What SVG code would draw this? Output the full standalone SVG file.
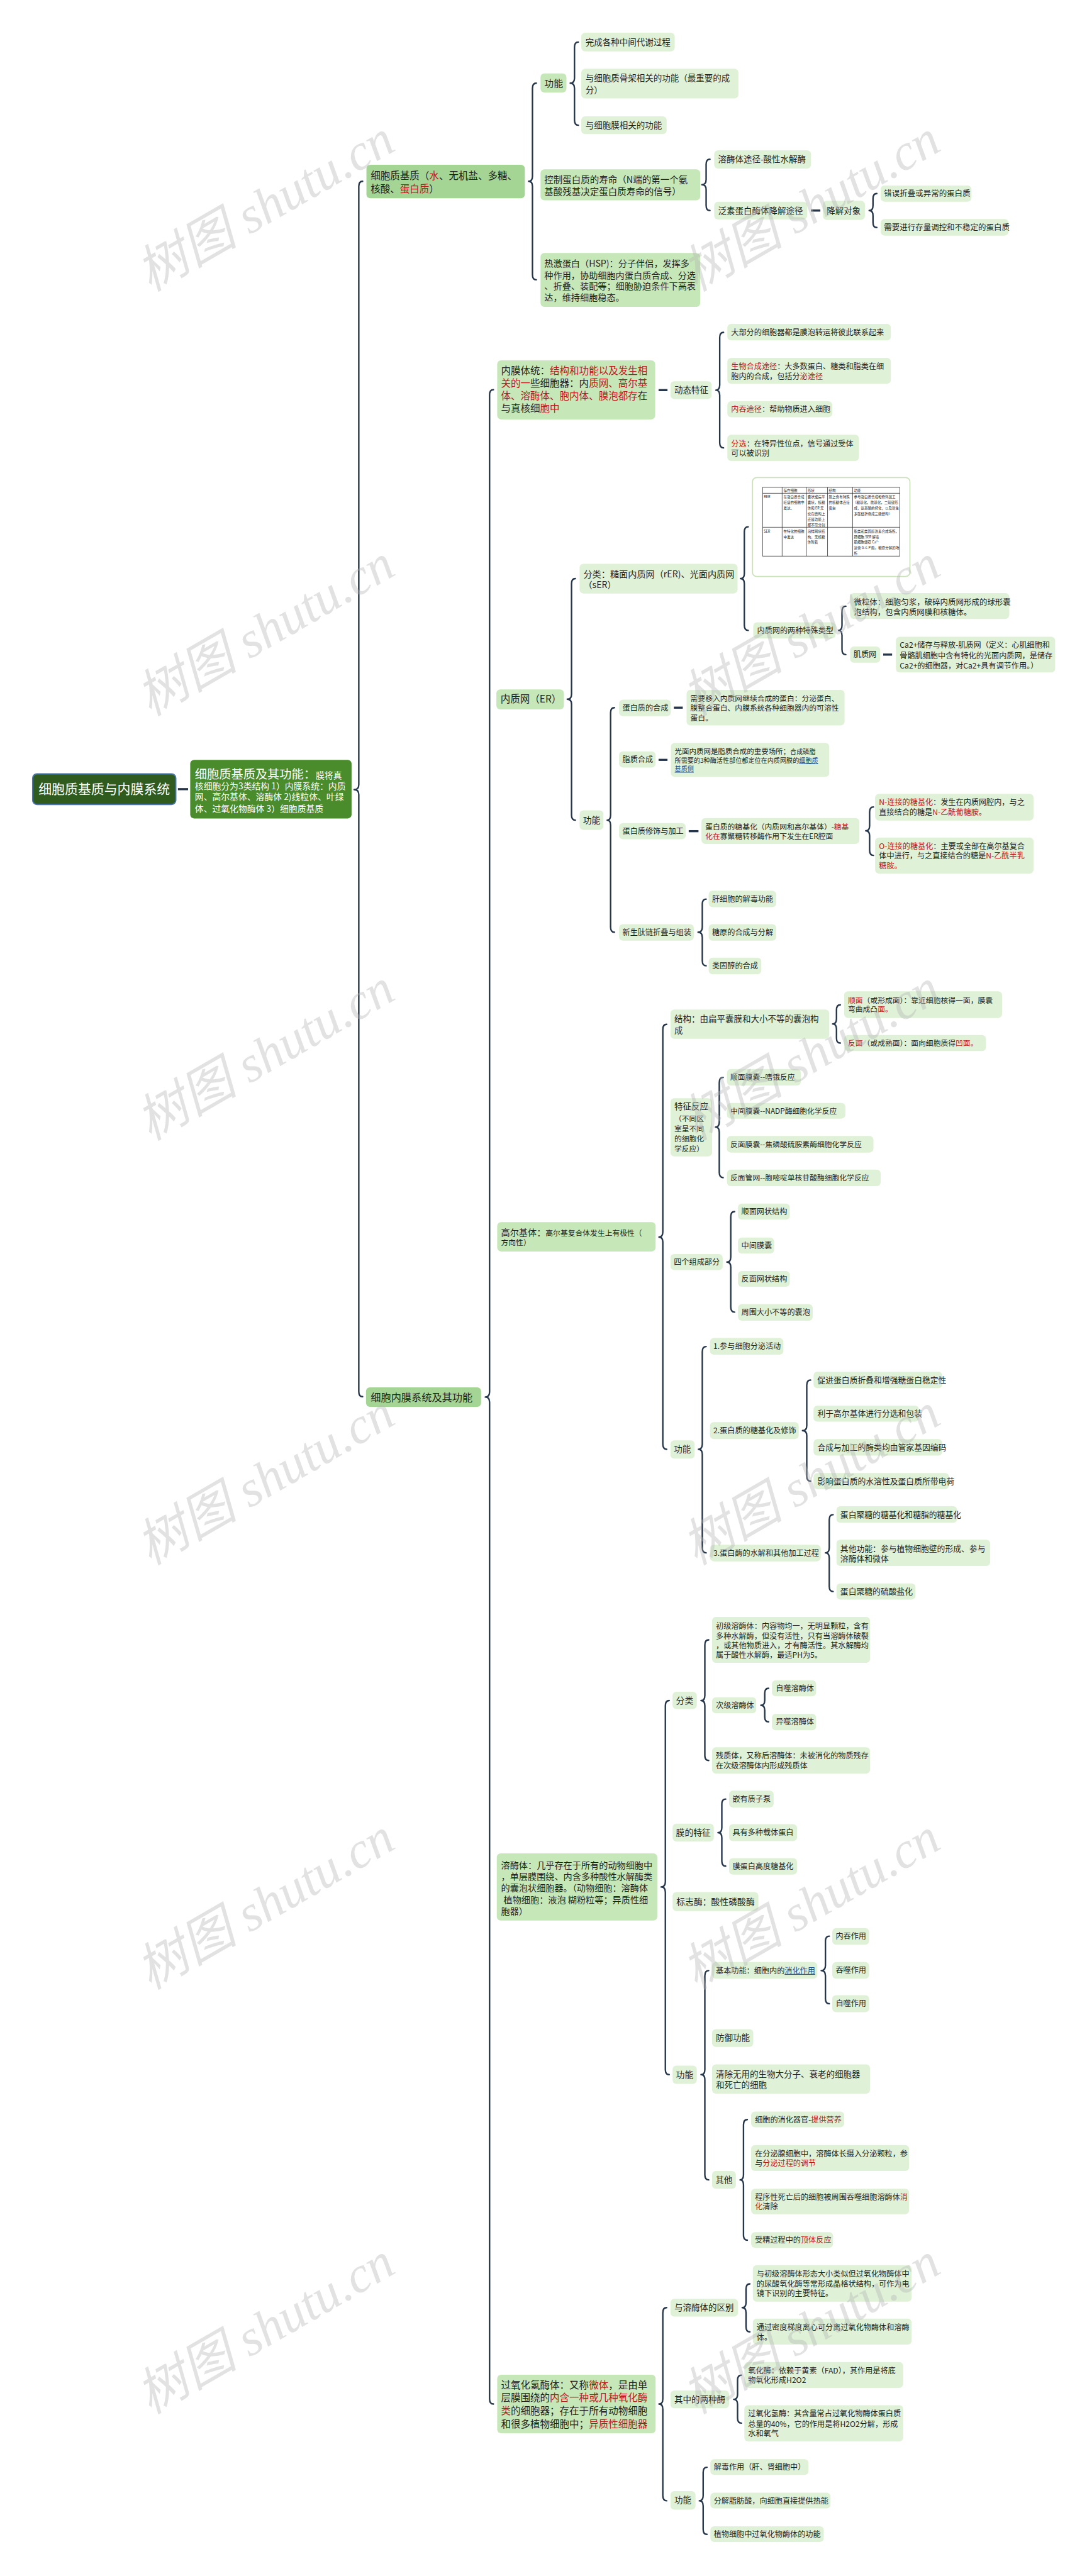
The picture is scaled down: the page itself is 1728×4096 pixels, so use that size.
<svg xmlns="http://www.w3.org/2000/svg" width="1728" height="4096" viewBox="0 0 1728 4096">
<style>
.c{fill:none;stroke:#25364a;stroke-width:3.5;stroke-linecap:round;stroke-linejoin:round}
.s{stroke:#25364a;stroke-width:5}
.L2{fill:#a5d595}
.L3{fill:#c6e7b8}
.L4{fill:#dff1d6}
text{font-family:'Noto Sans CJK SC','Liberation Sans',sans-serif;fill:#1f1f1f}
.r{fill:#c0161b}
.lk{fill:#1d4f91;text-decoration:underline}
.w{fill:#ffffff}
.tb text{font-size:8.2px;fill:#222}
.tl{stroke:#333;stroke-width:1.2;fill:none}
.wm{font-family:'Liberation Serif','Noto Sans CJK SC',serif;font-style:italic;font-size:120px;fill:#b5b5b5;opacity:.38}
</style>
<rect x="0" y="0" width="1728" height="4096" fill="#ffffff"/>
<g transform="scale(0.675)">
<g id="connectors">
<line class="s" x1="419" y1="1859" x2="443" y2="1859"/>
<line class="s" x1="1910" y1="496" x2="1932" y2="496"/>
<line class="s" x1="1551" y1="919" x2="1572" y2="919"/>
<line class="s" x1="2080" y1="1542" x2="2101" y2="1542"/>
<line class="s" x1="1587" y1="1667" x2="1608" y2="1667"/>
<line class="s" x1="1551" y1="1790" x2="1572" y2="1790"/>
<line class="s" x1="1622" y1="1958" x2="1645" y2="1958"/>
<path class="c" d="M 854 427 Q 845 427 845 439 V 1848 Q 845 1860 834 1860 Q 845 1860 845 1872 V 3278 Q 845 3290 854 3290"/>
<path class="c" d="M 1263 196 Q 1254 196 1254 208 V 415 Q 1254 427 1245 427 Q 1254 427 1254 439 V 647 Q 1254 659 1263 659"/>
<path class="c" d="M 1362 99 Q 1353 99 1353 111 V 184 Q 1353 196 1343 196 Q 1353 196 1353 208 V 283 Q 1353 295 1362 295"/>
<path class="c" d="M 1672 375 Q 1663 375 1663 387 V 423 Q 1663 435 1653 435 Q 1663 435 1663 447 V 484 Q 1663 496 1672 496"/>
<path class="c" d="M 2065 456 Q 2056 456 2056 468 V 484 Q 2056 496 2047 496 Q 2056 496 2056 508 V 524 Q 2056 536 2065 536"/>
<path class="c" d="M 1162 918 Q 1153 918 1153 930 V 3279 Q 1153 3291 1143 3291 Q 1153 3291 1153 3303 V 5651 Q 1153 5663 1162 5663"/>
<path class="c" d="M 1704 783 Q 1695 783 1695 795 V 907 Q 1695 919 1686 919 Q 1695 919 1695 931 V 1043 Q 1695 1055 1704 1055"/>
<path class="c" d="M 1355 1363 Q 1346 1363 1346 1375 V 1635 Q 1346 1647 1336 1647 Q 1346 1647 1346 1659 V 1920 Q 1346 1932 1355 1932"/>
<path class="c" d="M 1762 1241 Q 1753 1241 1753 1253 V 1351 Q 1753 1363 1744 1363 Q 1753 1363 1753 1375 V 1473 Q 1753 1485 1762 1485"/>
<path class="c" d="M 1992 1428 Q 1983 1428 1983 1440 V 1473 Q 1983 1485 1975 1485 Q 1983 1485 1983 1497 V 1530 Q 1983 1542 1992 1542"/>
<path class="c" d="M 1447 1667 Q 1438 1667 1438 1679 V 1920 Q 1438 1932 1430 1932 Q 1438 1932 1438 1944 V 2184 Q 1438 2196 1447 2196"/>
<path class="c" d="M 2057 1901 Q 2048 1901 2048 1913 V 1945 Q 2048 1957 2039 1957 Q 2048 1957 2048 1969 V 2003 Q 2048 2015 2057 2015"/>
<path class="c" d="M 1663 2118 Q 1654 2118 1654 2130 V 2184 Q 1654 2196 1644 2196 Q 1654 2196 1654 2208 V 2263 Q 1654 2275 1663 2275"/>
<path class="c" d="M 1570 2413 Q 1561 2413 1561 2425 V 2902 Q 1561 2914 1552 2914 Q 1561 2914 1561 2926 V 3402 Q 1561 3414 1570 3414"/>
<path class="c" d="M 1979 2367 Q 1970 2367 1970 2379 V 2400 Q 1970 2412 1961 2412 Q 1970 2412 1970 2424 V 2445 Q 1970 2457 1979 2457"/>
<path class="c" d="M 1703 2538 Q 1694 2538 1694 2550 V 2643 Q 1694 2655 1685 2655 Q 1694 2655 1694 2667 V 2762 Q 1694 2774 1703 2774"/>
<path class="c" d="M 1730 2854 Q 1721 2854 1721 2866 V 2961 Q 1721 2973 1712 2973 Q 1721 2973 1721 2985 V 3079 Q 1721 3091 1730 3091"/>
<path class="c" d="M 1663 3172 Q 1654 3172 1654 3184 V 3402 Q 1654 3414 1645 3414 Q 1654 3414 1654 3426 V 3646 Q 1654 3658 1663 3658"/>
<path class="c" d="M 1909 3251 Q 1900 3251 1900 3263 V 3358 Q 1900 3370 1890 3370 Q 1900 3370 1900 3382 V 3477 Q 1900 3489 1909 3489"/>
<path class="c" d="M 1962 3568 Q 1953 3568 1953 3580 V 3646 Q 1953 3658 1944 3658 Q 1953 3658 1953 3670 V 3737 Q 1953 3749 1962 3749"/>
<path class="c" d="M 1576 4006 Q 1567 4006 1567 4018 V 4433 Q 1567 4445 1557 4445 Q 1567 4445 1567 4457 V 4875 Q 1567 4887 1576 4887"/>
<path class="c" d="M 1669 3863 Q 1660 3863 1660 3875 V 3994 Q 1660 4006 1651 4006 Q 1660 4006 1660 4018 V 4135 Q 1660 4147 1669 4147"/>
<path class="c" d="M 1810 3977 Q 1801 3977 1801 3989 V 4005 Q 1801 4017 1792 4017 Q 1801 4017 1801 4029 V 4044 Q 1801 4056 1810 4056"/>
<path class="c" d="M 1709 4238 Q 1700 4238 1700 4250 V 4305 Q 1700 4317 1691 4317 Q 1700 4317 1700 4329 V 4384 Q 1700 4396 1709 4396"/>
<path class="c" d="M 1669 4642 Q 1660 4642 1660 4654 V 4875 Q 1660 4887 1651 4887 Q 1660 4887 1660 4899 V 5123 Q 1660 5135 1669 5135"/>
<path class="c" d="M 1953 4561 Q 1944 4561 1944 4573 V 4630 Q 1944 4642 1934 4642 Q 1944 4642 1944 4654 V 4708 Q 1944 4720 1953 4720"/>
<path class="c" d="M 1760 4993 Q 1751 4993 1751 5005 V 5123 Q 1751 5135 1743 5135 Q 1751 5135 1751 5147 V 5265 Q 1751 5277 1760 5277"/>
<path class="c" d="M 1570 5436 Q 1561 5436 1561 5448 V 5651 Q 1561 5663 1552 5663 Q 1561 5663 1561 5675 V 5879 Q 1561 5891 1570 5891"/>
<path class="c" d="M 1766 5380 Q 1757 5380 1757 5392 V 5424 Q 1757 5436 1748 5436 Q 1757 5436 1757 5448 V 5481 Q 1757 5493 1766 5493"/>
<path class="c" d="M 1746 5595 Q 1737 5595 1737 5607 V 5640 Q 1737 5652 1728 5652 Q 1737 5652 1737 5664 V 5696 Q 1737 5708 1746 5708"/>
<path class="c" d="M 1665 5812 Q 1656 5812 1656 5824 V 5879 Q 1656 5891 1647 5891 Q 1656 5891 1656 5903 V 5958 Q 1656 5970 1665 5970"/>
</g>

<g id="n-root"><rect x="77" y="1823" width="337" height="72" rx="10" fill="#2f5b1f" stroke="#4876a6" stroke-width="3"/><text class="w" x="245.5" y="1870" font-size="31" text-anchor="middle">细胞质基质与内膜系统</text></g>
<g id="n-cyto-func"><rect x="448" y="1790" width="380" height="138" rx="9" fill="#4a8b2b"/><text class="w" font-size="20.5"><tspan x="459" y="1834" font-size="28.5">细胞质基质及其功能：</tspan><tspan>膜将真</tspan><tspan x="459" y="1859">核细胞分为3类结构 1）内膜系统：内质</tspan><tspan x="459" y="1885">网、高尔基体、溶酶体 2)线粒体、叶绿</tspan><tspan x="459" y="1912">体、过氧化物酶体 3）细胞质基质</tspan></text></g>

<g id="n-cytosol"><rect class="L2" x="863" y="388" width="373" height="79" rx="9"/><text font-size="23"><tspan x="873" y="422">细胞质基质（<tspan class="r">水</tspan>、无机盐、多糖、</tspan><tspan x="873" y="453">核酸、<tspan class="r">蛋白质</tspan>）</tspan></text></g>
<g id="n-func1"><rect class="L3" x="1273" y="173" width="61" height="45" rx="9"/><text x="1282" y="204" font-size="22">功能</text></g>
<g id="n-f1a"><rect class="L4" x="1369" y="77" width="220" height="44" rx="9"/><text x="1379" y="106" font-size="20">完成各种中间代谢过程</text></g>
<g id="n-f1b"><rect class="L4" x="1369" y="162" width="370" height="70" rx="9"/><text font-size="20"><tspan x="1379" y="191">与细胞质骨架相关的功能（最重要的成</tspan><tspan x="1379" y="219">分）</tspan></text></g>
<g id="n-f1c"><rect class="L4" x="1369" y="274" width="201" height="42" rx="9"/><text x="1379" y="302" font-size="20">与细胞膜相关的功能</text></g>
<g id="n-life"><rect class="L3" x="1273" y="399" width="376" height="73" rx="9"/><text font-size="21.5"><tspan x="1282" y="431">控制蛋白质的寿命（N端的第一个氨</tspan><tspan x="1282" y="459">基酸残基决定蛋白质寿命的信号）</tspan></text></g>
<g id="n-hsp"><rect class="L3" x="1273" y="596" width="376" height="127" rx="9"/><text font-size="21"><tspan x="1282" y="628">热激蛋白（HSP)：分子伴侣，发挥多</tspan><tspan x="1282" y="656">种作用，协助细胞内蛋白质合成、分选</tspan><tspan x="1282" y="682">、折叠、装配等；细胞胁迫条件下高表</tspan><tspan x="1282" y="708">达，维持细胞稳态。</tspan></text></g>
<g id="n-lyso-path"><rect class="L4" x="1682" y="354" width="228" height="43" rx="9"/><text x="1691" y="382" font-size="20">溶酶体途径-酸性水解酶</text></g>
<g id="n-ubiq"><rect class="L4" x="1682" y="475" width="219" height="42" rx="9"/><text x="1691" y="503" font-size="20">泛素蛋白酶体降解途径</text></g>
<g id="n-target"><rect class="L4" x="1938" y="473" width="99" height="45" rx="9"/><text x="1947" y="503" font-size="20">降解对象</text></g>
<g id="n-t1"><rect class="L4" x="2074" y="437" width="214" height="38" rx="9"/><text x="2082" y="462.5" font-size="18.5">错误折叠或异常的蛋白质</text></g>
<g id="n-t2"><rect class="L4" x="2074" y="516" width="301" height="39" rx="9"/><text x="2082" y="542.5" font-size="18.5">需要进行存量调控和不稳定的蛋白质</text></g>

<g id="n-endo"><rect class="L2" x="862" y="3268" width="271" height="46" rx="9"/><text x="873" y="3300" font-size="24">细胞内膜系统及其功能</text></g>

<g id="n-imt"><rect class="L3" x="1171" y="849" width="372" height="139" rx="9"/><text font-size="23"><tspan x="1180" y="881">内膜体统：<tspan class="r">结构和功能以及发生相</tspan></tspan><tspan x="1180" y="911"><tspan class="r">关的一</tspan>些细胞器：内<tspan class="r">质网、高尔基</tspan></tspan><tspan x="1180" y="941"><tspan class="r">体、溶酶体、胞内体、膜泡都存</tspan>在</tspan><tspan x="1180" y="971">与真核细<tspan class="r">胞中</tspan></tspan></text></g>
<g id="n-dyn"><rect class="L4" x="1579" y="898" width="97" height="42" rx="9"/><text x="1588" y="926" font-size="20">动态特征</text></g>
<g id="n-d1"><rect class="L4" x="1713" y="763" width="385" height="39" rx="9"/><text x="1722" y="789.5" font-size="18">大部分的细胞器都是膜泡转运将彼此联系起来</text></g>
<g id="n-d2"><rect class="L4" x="1713" y="843" width="385" height="61" rx="9"/><text font-size="18"><tspan x="1722" y="869.5"><tspan class="r">生物合成途径</tspan>：大多数蛋白、糖类和脂类在细</tspan><tspan x="1722" y="893.5">胞内的合成，包括分<tspan class="r">泌途径</tspan></tspan></text></g>
<g id="n-d3"><rect class="L4" x="1713" y="945" width="247" height="38" rx="9"/><text x="1722" y="970.5" font-size="18"><tspan class="r">内吞途径</tspan>：帮助物质进入细胞</text></g>
<g id="n-d4"><rect class="L4" x="1713" y="1024" width="310" height="62" rx="9"/><text font-size="18"><tspan x="1722" y="1051.5"><tspan class="r">分选</tspan>：在特异性位点，信号通过受体</tspan><tspan x="1722" y="1074.5">可以被识别</tspan></text></g>

<g id="n-er"><rect class="L3" x="1169" y="1624" width="159" height="47" rx="9"/><text x="1179" y="1655" font-size="23">内质网（ER）</text></g>
<g id="n-er-class"><rect class="L4" x="1365" y="1328" width="372" height="70" rx="9"/><text font-size="21"><tspan x="1374" y="1360.5">分类：糙面内质网（rER)、光面内质网</tspan><tspan x="1374" y="1385.5">（sER）</tspan></text></g>
<g id="n-er-table" class="tb"><rect x="1772" y="1125" width="371" height="233" rx="10" fill="#ffffff" stroke="#c9e2b9" stroke-width="2.5"/>
<rect class="tl" x="1796" y="1148" width="323" height="162" stroke-width="1.6"/>
<line class="tl" x1="1796" y1="1162" x2="2119" y2="1162"/>
<line class="tl" x1="1796" y1="1242" x2="2119" y2="1242"/>
<line class="tl" x1="1842" y1="1148" x2="1842" y2="1310"/>
<line class="tl" x1="1899" y1="1148" x2="1899" y2="1310"/>
<line class="tl" x1="1949" y1="1148" x2="1949" y2="1310"/>
<line class="tl" x1="2008" y1="1148" x2="2008" y2="1310"/>
<text x="1845" y="1158">存在细胞</text><text x="1902" y="1158">形状</text><text x="1952" y="1158">结构</text><text x="2011" y="1158">功能</text>
<text x="1799" y="1173">RER</text>
<text><tspan x="1845" y="1173">在蛋白质合成</tspan><tspan x="1845" y="1186.3">旺盛的细胞中</tspan><tspan x="1845" y="1199.7">发达。</tspan></text>
<text><tspan x="1902" y="1173">囊状或扁平</tspan><tspan x="1902" y="1186.3">囊状，核糖</tspan><tspan x="1902" y="1199.7">体和 ER 无</tspan><tspan x="1902" y="1213">论在结构上</tspan><tspan x="1902" y="1226.3">还是功能上</tspan><tspan x="1902" y="1239.7">都不可分割</tspan></text>
<text><tspan x="1952" y="1173">膜上含有特殊</tspan><tspan x="1952" y="1186.3">的核糖体连接</tspan><tspan x="1952" y="1199.7">蛋白</tspan></text>
<text><tspan x="2011" y="1173">参与蛋白质合成和修饰加工</tspan><tspan x="2009" y="1186.3">（糖基化，酰基化，二硫键形</tspan><tspan x="2011" y="1199.7">成，氨基酸的羟化，以及新生</tspan><tspan x="2011" y="1213">多肽链折叠成三级结构）</tspan></text>
<text x="1799" y="1254.7">SER</text>
<text><tspan x="1845" y="1254.7">在特化的细胞</tspan><tspan x="1845" y="1268">中发达</tspan></text>
<text><tspan x="1902" y="1254.7">泡样网状结</tspan><tspan x="1902" y="1268">构，无核糖</tspan><tspan x="1902" y="1279.7">体附着</tspan></text>
<text><tspan x="2011" y="1254.7">脂类和类固醇激素合成场所。</tspan><tspan x="2011" y="1268">肝细胞 SER 解毒</tspan><tspan x="2011" y="1279.7">肌细胞储存 Ca²⁺</tspan><tspan x="2011" y="1293">富含 G-6-P 酶，糖原分解的场</tspan><tspan x="2011" y="1306.3">所</tspan></text>
</g>
<g id="n-er-special"><rect class="L4" x="1774" y="1466" width="194" height="38" rx="9"/><text x="1783" y="1491.5" font-size="18">内质网的两种特殊类型</text></g>
<g id="n-microsome"><rect class="L4" x="2002" y="1397" width="375" height="61" rx="9"/><text font-size="18.5"><tspan x="2011" y="1424.7">微粒体：细胞匀浆，破碎内质网形成的球形囊</tspan><tspan x="2011" y="1448.7">泡结构，包含内质网膜和核糖体。</tspan></text></g>
<g id="n-sr"><rect class="L4" x="2002" y="1523" width="71" height="38" rx="9"/><text x="2010" y="1548.5" font-size="18">肌质网</text></g>
<g id="n-ca"><rect class="L4" x="2110" y="1500" width="375" height="84" rx="9"/><text font-size="18"><tspan x="2119" y="1526.5">Ca2+储存与释放-肌质网（定义：心肌细胞和</tspan><tspan x="2119" y="1551.5">骨骼肌细胞中含有特化的光面内质网，是储存</tspan><tspan x="2119" y="1574.5">Ca2+的细胞器，对Ca2+具有调节作用。）</tspan></text></g>
<g id="n-er-func"><rect class="L4" x="1365" y="1909" width="56" height="46" rx="9"/><text x="1373" y="1939.4" font-size="20.5">功能</text></g>
<g id="n-er-ps"><rect class="L4" x="1458" y="1648" width="122" height="39" rx="9"/><text x="1466" y="1673.5" font-size="18">蛋白质的合成</text></g>
<g id="n-er-ps2"><rect class="L4" x="1617" y="1625" width="372" height="84" rx="9"/><text font-size="17.5"><tspan x="1626" y="1651.3">需要移入内质网继续合成的蛋白：分泌蛋白、</tspan><tspan x="1626" y="1674.3">膜整合蛋白、内膜系统各种细胞器内的可溶性</tspan><tspan x="1626" y="1698.3">蛋白。</tspan></text></g>
<g id="n-er-lip"><rect class="L4" x="1458" y="1770" width="86" height="38" rx="9"/><text x="1466" y="1795.5" font-size="18">脂质合成</text></g>
<g id="n-er-lip2"><rect class="L4" x="1580" y="1750" width="373" height="80" rx="9"/><text font-size="15"><tspan x="1589" y="1776" font-size="17">光面内质网是脂质合成的重要场所；</tspan><tspan>合成磷脂</tspan><tspan x="1589" y="1797">所需要的3种酶活性部位都定位在内质网膜的<tspan class="lk">细胞质</tspan></tspan><tspan x="1589" y="1817" class="lk">基质侧</tspan></text></g>
<g id="n-er-mod"><rect class="L4" x="1458" y="1939" width="157" height="38" rx="9"/><text x="1466" y="1964.5" font-size="18">蛋白质修饰与加工</text></g>
<g id="n-er-mod2"><rect class="L4" x="1652" y="1927" width="372" height="61" rx="9"/><text font-size="17.5"><tspan x="1661" y="1954.3">蛋白质的糖基化（内质网和高尔基体）<tspan class="r">-糖基</tspan></tspan><tspan x="1661" y="1976.3"><tspan class="r">化在</tspan>寡聚糖转移酶作用下发生在ER腔面</tspan></text></g>
<g id="n-er-n"><rect class="L4" x="2061" y="1870" width="373" height="63" rx="9"/><text font-size="18"><tspan x="2070" y="1896.5"><tspan class="r">N-连接的糖基化</tspan>：发生在内质网腔内，与之</tspan><tspan x="2070" y="1920.5">直接结合的糖是<tspan class="r">N-乙酰葡糖胺。</tspan></tspan></text></g>
<g id="n-er-o"><rect class="L4" x="2061" y="1973" width="373" height="85" rx="9"/><text font-size="18"><tspan x="2070" y="1999.5"><tspan class="r">O-连接的糖基化</tspan>：主要或全部在高尔基复合</tspan><tspan x="2070" y="2022.5">体中进行，与之直接结合的糖是<tspan class="r">N-乙酰半乳</tspan></tspan><tspan x="2070" y="2046.5" class="r">糖胺。</tspan></text></g>
<g id="n-er-fold"><rect class="L4" x="1458" y="2177" width="176" height="39" rx="9"/><text x="1466" y="2202.5" font-size="18">新生肽链折叠与组装</text></g>
<g id="n-er-f1"><rect class="L4" x="1669" y="2098" width="159" height="39" rx="9"/><text x="1677" y="2124.5" font-size="18">肝细胞的解毒功能</text></g>
<g id="n-er-f2"><rect class="L4" x="1669" y="2177" width="159" height="39" rx="9"/><text x="1677" y="2202.5" font-size="18">糖原的合成与分解</text></g>
<g id="n-er-f3"><rect class="L4" x="1669" y="2256" width="124" height="39" rx="9"/><text x="1677" y="2281.5" font-size="18">类固醇的合成</text></g>

<g id="n-golgi"><rect class="L3" x="1171" y="2879" width="373" height="69" rx="9"/><text font-size="17.5"><tspan x="1180" y="2911" font-size="21">高尔基体：</tspan><tspan>高尔基复合体发生上有极性（</tspan><tspan x="1180" y="2934">方向性）</tspan></text></g>
<g id="n-g-struct"><rect class="L4" x="1579" y="2378" width="374" height="69" rx="9"/><text font-size="20"><tspan x="1588" y="2407">结构：由扁平囊膜和大小不等的囊泡构</tspan><tspan x="1588" y="2434">成</tspan></text></g>
<g id="n-g-cis"><rect class="L4" x="1988" y="2335" width="372" height="63" rx="9"/><text font-size="17.5"><tspan x="1997" y="2362.3"><tspan class="r">顺面</tspan>（或形成面）：靠近细胞核得一面，膜囊</tspan><tspan x="1997" y="2384.3">弯曲成凸<tspan class="r">面。</tspan></tspan></text></g>
<g id="n-g-trans"><rect class="L4" x="1988" y="2438" width="334" height="38" rx="9"/><text x="1997" y="2463.3" font-size="17.5"><tspan class="r">反面</tspan>（或成熟面）：面向细胞质得<tspan class="r">凹面。</tspan></text></g>
<g id="n-g-feat"><rect class="L4" x="1579" y="2587" width="98" height="137" rx="9"/><text font-size="17.5"><tspan x="1588" y="2614" font-size="20">特征反应</tspan><tspan x="1588" y="2642">（不同区</tspan><tspan x="1588" y="2665">室呈不同</tspan><tspan x="1588" y="2689">的细胞化</tspan><tspan x="1588" y="2712">学反应）</tspan></text></g>
<g id="n-g-fr1"><rect class="L4" x="1712" y="2518" width="174" height="39" rx="9"/><text x="1720" y="2544.3" font-size="17.5">顺面膜囊--嗜锇反应</text></g>
<g id="n-g-fr2"><rect class="L4" x="1712" y="2598" width="279" height="37" rx="9"/><text x="1720" y="2623.3" font-size="17.5">中间膜囊--NADP酶细胞化学反应</text></g>
<g id="n-g-fr3"><rect class="L4" x="1712" y="2676" width="345" height="39" rx="9"/><text x="1720" y="2702.3" font-size="17.5">反面膜囊--焦磷酸硫胺素酶细胞化学反应</text></g>
<g id="n-g-fr4"><rect class="L4" x="1712" y="2755" width="362" height="39" rx="9"/><text x="1720" y="2781.3" font-size="17.5">反面管网--胞嘧啶单核苷酸酶细胞化学反应</text></g>
<g id="n-g-four"><rect class="L4" x="1579" y="2954" width="123" height="38" rx="9"/><text x="1587" y="2979.5" font-size="18">四个组成部分</text></g>
<g id="n-g-c1"><rect class="L4" x="1738" y="2835" width="122" height="38" rx="9"/><text x="1746" y="2860.5" font-size="18">顺面网状结构</text></g>
<g id="n-g-c2"><rect class="L4" x="1738" y="2915" width="85" height="38" rx="9"/><text x="1746" y="2940.5" font-size="18">中间膜囊</text></g>
<g id="n-g-c3"><rect class="L4" x="1738" y="2994" width="122" height="37" rx="9"/><text x="1746" y="3019.5" font-size="18">反面网状结构</text></g>
<g id="n-g-c4"><rect class="L4" x="1738" y="3072" width="176" height="39" rx="9"/><text x="1746" y="3097.5" font-size="18">周围大小不等的囊泡</text></g>
<g id="n-g-func"><rect class="L4" x="1579" y="3393" width="57" height="43" rx="9"/><text x="1587" y="3421" font-size="20">功能</text></g>
<g id="n-g-1"><rect class="L4" x="1672" y="3152" width="173" height="39" rx="9"/><text x="1680" y="3178.5" font-size="18">1.参与细胞分泌活动</text></g>
<g id="n-g-2"><rect class="L4" x="1672" y="3350" width="209" height="40" rx="9"/><text x="1680" y="3376.5" font-size="18">2.蛋白质的糖基化及修饰</text></g>
<g id="n-g-21"><rect class="L4" x="1916" y="3231" width="303" height="39" rx="9"/><text x="1925" y="3257.8" font-size="19">促进蛋白质折叠和增强糖蛋白稳定性</text></g>
<g id="n-g-22"><rect class="L4" x="1916" y="3311" width="248" height="38" rx="9"/><text x="1925" y="3336.8" font-size="19">利于高尔基体进行分选和包装</text></g>
<g id="n-g-23"><rect class="L4" x="1916" y="3390" width="303" height="39" rx="9"/><text x="1925" y="3415.8" font-size="19">合成与加工的酶类均由管家基因编码</text></g>
<g id="n-g-24"><rect class="L4" x="1916" y="3470" width="319" height="38" rx="9"/><text x="1925" y="3495.8" font-size="19">影响蛋白质的水溶性及蛋白质所带电荷</text></g>
<g id="n-g-3"><rect class="L4" x="1672" y="3639" width="261" height="39" rx="9"/><text x="1680" y="3664.5" font-size="18">3.蛋白酶的水解和其他加工过程</text></g>
<g id="n-g-31"><rect class="L4" x="1970" y="3548" width="284" height="39" rx="9"/><text x="1979" y="3574.8" font-size="19">蛋白聚糖的糖基化和糖脂的糖基化</text></g>
<g id="n-g-32"><rect class="L4" x="1970" y="3627" width="362" height="62" rx="9"/><text font-size="19"><tspan x="1979" y="3654.8">其他功能：参与植物细胞壁的形成、参与</tspan><tspan x="1979" y="3678.8">溶酶体和微体</tspan></text></g>
<g id="n-g-33"><rect class="L4" x="1970" y="3730" width="186" height="38" rx="9"/><text x="1979" y="3755.8" font-size="19">蛋白聚糖的硫酸盐化</text></g>

<g id="n-lys"><rect class="L3" x="1170" y="4366" width="378" height="158" rx="9"/><text font-size="21"><tspan x="1180" y="4401.5">溶酶体：几乎存在于所有的动物细胞中</tspan><tspan x="1180" y="4428.5">，单层膜围绕、内含多种酸性水解酶类</tspan><tspan x="1180" y="4455.5">的囊泡状细胞器。（动物细胞：溶酶体</tspan><tspan x="1186" y="4482.5">植物细胞：液泡 糊粉粒等；异质性细</tspan><tspan x="1180" y="4509.5">胞器）</tspan></text></g>
<g id="n-l-class"><rect class="L4" x="1584" y="3985" width="57" height="41" rx="9"/><text x="1592" y="4013" font-size="20.5">分类</text></g>
<g id="n-l-p1"><rect class="L4" x="1677" y="3809" width="372" height="108" rx="9"/><text font-size="18"><tspan x="1686" y="3837.5">初级溶酶体：内容物均一，无明显颗粒，含有</tspan><tspan x="1686" y="3860.5">多种水解酶，但没有活性，只有当溶酶体破裂</tspan><tspan x="1686" y="3883.5">，或其他物质进入，才有酶活性。其水解酶均</tspan><tspan x="1686" y="3904.5">属于酸性水解酶，最适PH为5。</tspan></text></g>
<g id="n-l-p2"><rect class="L4" x="1677" y="3998" width="104" height="38" rx="9"/><text x="1686" y="4023.5" font-size="18">次级溶酶体</text></g>
<g id="n-l-p21"><rect class="L4" x="1818" y="3958" width="104" height="38" rx="9"/><text x="1827" y="3983.5" font-size="18">自噬溶酶体</text></g>
<g id="n-l-p22"><rect class="L4" x="1818" y="4037" width="104" height="39" rx="9"/><text x="1827" y="4062.5" font-size="18">异噬溶酶体</text></g>
<g id="n-l-p3"><rect class="L4" x="1677" y="4116" width="372" height="62" rx="9"/><text font-size="18"><tspan x="1686" y="4142.5">残质体，又称后溶酶体：未被消化的物质残存</tspan><tspan x="1686" y="4166.5">在次级溶酶体内形成残质体</tspan></text></g>
<g id="n-l-mem"><rect class="L4" x="1584" y="4296" width="97" height="42" rx="9"/><text x="1592" y="4324" font-size="20.5">膜的特征</text></g>
<g id="n-l-m1"><rect class="L4" x="1717" y="4218" width="105" height="40" rx="9"/><text x="1725" y="4244.5" font-size="18">嵌有质子泵</text></g>
<g id="n-l-m2"><rect class="L4" x="1717" y="4297" width="160" height="40" rx="9"/><text x="1725" y="4323.5" font-size="18">具有多种载体蛋白</text></g>
<g id="n-l-m3"><rect class="L4" x="1717" y="4377" width="160" height="39" rx="9"/><text x="1725" y="4402.5" font-size="18">膜蛋白高度糖基化</text></g>
<g id="n-l-mark"><rect class="L4" x="1584" y="4457" width="202" height="45" rx="9"/><text x="1593" y="4487" font-size="20.5">标志酶：酸性磷酸酶</text></g>
<g id="n-l-func"><rect class="L4" x="1584" y="4866" width="57" height="43" rx="9"/><text x="1592" y="4894.5" font-size="20.5">功能</text></g>
<g id="n-l-basic"><rect class="L4" x="1677" y="4622" width="248" height="39" rx="9"/><text x="1686" y="4648.5" font-size="18">基本功能：细胞内的<tspan class="lk">消化作用</tspan></text></g>
<g id="n-l-b1"><rect class="L4" x="1960" y="4542" width="87" height="39" rx="9"/><text x="1968" y="4567.5" font-size="18">内吞作用</text></g>
<g id="n-l-b2"><rect class="L4" x="1960" y="4622" width="87" height="39" rx="9"/><text x="1968" y="4647.5" font-size="18">吞噬作用</text></g>
<g id="n-l-b3"><rect class="L4" x="1960" y="4700" width="87" height="40" rx="9"/><text x="1968" y="4726.5" font-size="18">自噬作用</text></g>
<g id="n-l-def"><rect class="L4" x="1677" y="4780" width="97" height="42" rx="9"/><text x="1686" y="4808" font-size="20">防御功能</text></g>
<g id="n-l-clr"><rect class="L4" x="1677" y="4863" width="372" height="69" rx="9"/><text font-size="20"><tspan x="1686" y="4893">清除无用的生物大分子、衰老的细胞器</tspan><tspan x="1686" y="4919">和死亡的细胞</tspan></text></g>
<g id="n-l-oth"><rect class="L4" x="1677" y="5114" width="56" height="42" rx="9"/><text x="1685" y="5142" font-size="20">其他</text></g>
<g id="n-l-o1"><rect class="L4" x="1769" y="4974" width="219" height="37" rx="9"/><text x="1778" y="4999.5" font-size="18">细胞的消化器官-<tspan class="r">提供营养</tspan></text></g>
<g id="n-l-o2"><rect class="L4" x="1769" y="5053" width="372" height="61" rx="9"/><text font-size="18"><tspan x="1778" y="5079.5">在分泌腺细胞中，溶酶体长摄入分泌颗粒，参</tspan><tspan x="1778" y="5102.5">与<tspan class="r">分泌过程的调节</tspan></tspan></text></g>
<g id="n-l-o3"><rect class="L4" x="1769" y="5156" width="372" height="60" rx="9"/><text font-size="18"><tspan x="1778" y="5181.5">程序性死亡后的细胞被周围吞噬细胞溶酶体<tspan class="r">消</tspan></tspan><tspan x="1778" y="5204.5"><tspan class="r">化</tspan>清除</tspan></text></g>
<g id="n-l-o4"><rect class="L4" x="1769" y="5258" width="193" height="37" rx="9"/><text x="1778" y="5283" font-size="18">受精过程中的<tspan class="r">顶体反应</tspan></text></g>

<g id="n-per"><rect class="L3" x="1171" y="5594" width="373" height="138" rx="9"/><text font-size="23"><tspan x="1180" y="5627">过氧化氢酶体：又称<tspan class="r">微体</tspan>，是由单</tspan><tspan x="1180" y="5657">层膜围绕的<tspan class="r">内含一种或几种氧化酶</tspan></tspan><tspan x="1180" y="5687"><tspan class="r">类</tspan>的细胞器；存在于所有动物细胞</tspan><tspan x="1180" y="5718">和很多植物细胞中；<tspan class="r">异质性细胞器</tspan></tspan></text></g>
<g id="n-p-diff"><rect class="L4" x="1579" y="5415" width="159" height="42" rx="9"/><text x="1588" y="5443" font-size="20">与溶酶体的区别</text></g>
<g id="n-p-d1"><rect class="L4" x="1773" y="5336" width="374" height="86" rx="9"/><text font-size="18"><tspan x="1782" y="5363.5">与初级溶酶体形态大小类似但过氧化物酶体中</tspan><tspan x="1782" y="5386.5">的尿酸氧化酶等常形成晶格状结构，可作为电</tspan><tspan x="1782" y="5409.5">镜下识别的主要特征。</tspan></text></g>
<g id="n-p-d2"><rect class="L4" x="1773" y="5462" width="374" height="61" rx="9"/><text font-size="18"><tspan x="1782" y="5488.5">通过密度梯度离心可分离过氧化物酶体和溶酶</tspan><tspan x="1782" y="5512.5">体。</tspan></text></g>
<g id="n-p-enz"><rect class="L4" x="1579" y="5631" width="138" height="42" rx="9"/><text x="1588" y="5659" font-size="20">其中的两种酶</text></g>
<g id="n-p-e1"><rect class="L4" x="1753" y="5564" width="374" height="61" rx="9"/><text font-size="18"><tspan x="1762" y="5591.5">氧化酶：依赖于黄素（FAD），其作用是将底</tspan><tspan x="1762" y="5613.5">物氧化形成H2O2</tspan></text></g>
<g id="n-p-e2"><rect class="L4" x="1753" y="5666" width="374" height="85" rx="9"/><text font-size="18"><tspan x="1762" y="5692.5">过氧化氢酶：其含量常占过氧化物酶体蛋白质</tspan><tspan x="1762" y="5716.5">总量的40%，它的作用是将H2O2分解，形成</tspan><tspan x="1762" y="5739.5">水和氧气</tspan></text></g>
<g id="n-p-func"><rect class="L4" x="1579" y="5868" width="59" height="44" rx="9"/><text x="1588" y="5897" font-size="20">功能</text></g>
<g id="n-p-f1"><rect class="L4" x="1673" y="5793" width="231" height="37" rx="9"/><text x="1681" y="5818.5" font-size="18">解毒作用（肝、肾细胞中）</text></g>
<g id="n-p-f2"><rect class="L4" x="1673" y="5872" width="283" height="37" rx="9"/><text x="1681" y="5897.5" font-size="18">分解脂肪酸，向细胞直接提供热能</text></g>
<g id="n-p-f3"><rect class="L4" x="1673" y="5951" width="267" height="37" rx="9"/><text x="1681" y="5976.5" font-size="18">植物细胞中过氧化物酶体的功能</text></g>

<g id="watermarks">
<text class="wm" text-anchor="middle" transform="translate(645 520) rotate(-30)">树图 shutu.cn</text>
<text class="wm" text-anchor="middle" transform="translate(1930 520) rotate(-30)">树图 shutu.cn</text>
<text class="wm" text-anchor="middle" transform="translate(645 1520) rotate(-30)">树图 shutu.cn</text>
<text class="wm" text-anchor="middle" transform="translate(1930 1520) rotate(-30)">树图 shutu.cn</text>
<text class="wm" text-anchor="middle" transform="translate(645 2520) rotate(-30)">树图 shutu.cn</text>
<text class="wm" text-anchor="middle" transform="translate(1930 2520) rotate(-30)">树图 shutu.cn</text>
<text class="wm" text-anchor="middle" transform="translate(645 3520) rotate(-30)">树图 shutu.cn</text>
<text class="wm" text-anchor="middle" transform="translate(1930 3520) rotate(-30)">树图 shutu.cn</text>
<text class="wm" text-anchor="middle" transform="translate(645 4520) rotate(-30)">树图 shutu.cn</text>
<text class="wm" text-anchor="middle" transform="translate(1930 4520) rotate(-30)">树图 shutu.cn</text>
<text class="wm" text-anchor="middle" transform="translate(645 5520) rotate(-30)">树图 shutu.cn</text>
<text class="wm" text-anchor="middle" transform="translate(1930 5520) rotate(-30)">树图 shutu.cn</text>
</g>
</g>
</svg>
